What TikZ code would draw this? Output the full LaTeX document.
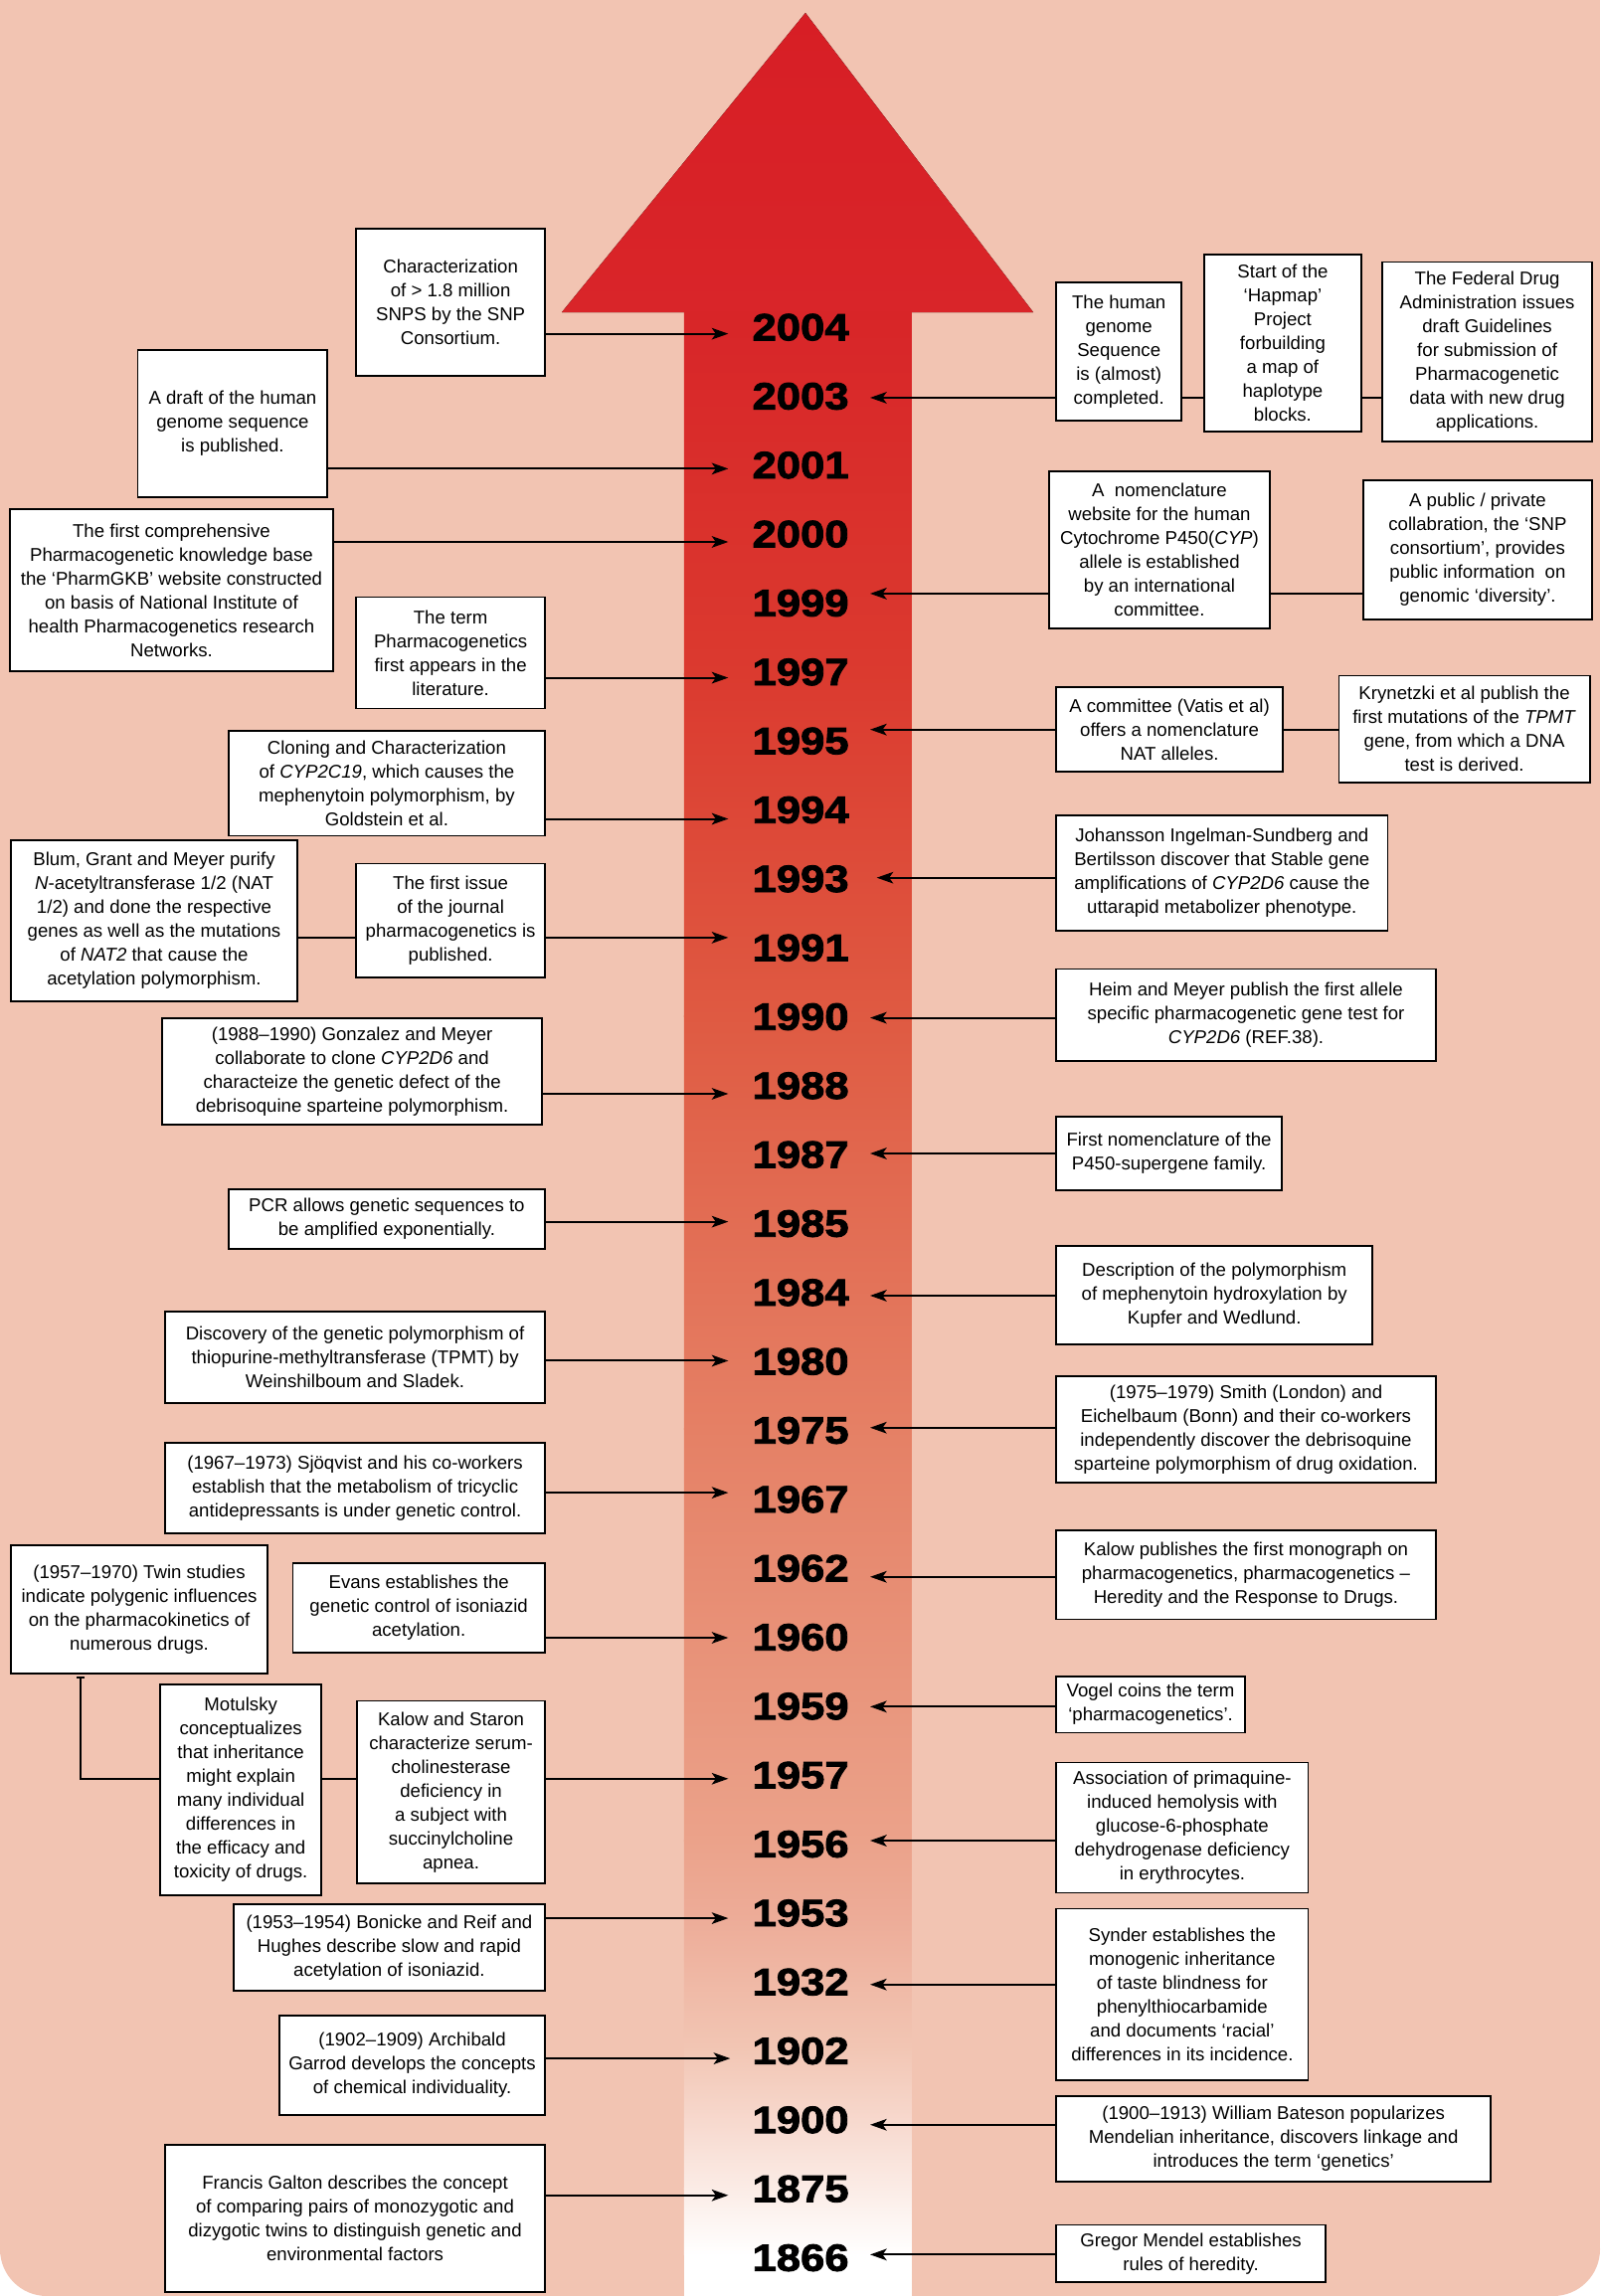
\documentclass[tikz,border=0pt]{standalone}
\usepackage{fontspec}
\setmainfont{Liberation Sans}
\newfontfamily\yearfont[FakeStretch=1.14,FakeBold=2.2]{Liberation Sans Bold}
\usetikzlibrary{arrows.meta}
\definecolor{bgpink}{RGB}{242,196,178}
\definecolor{tri0}{RGB}{215,30,37}
\definecolor{tri1}{RGB}{217,37,41}
\definecolor{c0}{RGB}{216,37,40}
\definecolor{c1}{RGB}{219,58,47}
\definecolor{c2}{RGB}{223,90,66}
\definecolor{c3}{RGB}{229,128,101}
\definecolor{c4}{RGB}{235,162,138}
\definecolor{c5}{RGB}{237,172,152}
\definecolor{c6}{RGB}{242,198,180}
\definecolor{c7}{RGB}{247,216,205}
\definecolor{c8}{RGB}{251,236,230}
\definecolor{c9}{RGB}{255,255,255}
\tikzset{
  evb/.style={draw=black, fill=white, line width=1.15pt, inner sep=0pt, outer sep=0pt,
    align=center, font=\fontsize{12.65}{16.3}\selectfont},
  yr/.style={inner sep=0pt, font=\yearfont\fontsize{26}{26}\selectfont},
  conn/.style={draw=black, line width=1.35pt},
  arr/.style={conn, -{Stealth[length=11.3pt,width=7.9pt,inset=2.8pt]}}
}
\newcommand\evbox[6]{%
  \node[evb, minimum width={(#4-#2)*1pt}, minimum height={(#5-#3)*1pt}] (#1) at ({(#2+#4)/2},{(#3+#5)/2}) {#6};}
\newcommand\shaftseg[4]{%
  \fill[top color=#3, bottom color=#4] (467.2,#1) rectangle (622.8,{#2+0.6});}
\begin{document}
\begin{tikzpicture}[x=1pt,y=-1pt]
\useasboundingbox (0,0) rectangle (1093,1568.5);
% background
\fill[bgpink] (0,0) rectangle (1093,1568.5);
\fill[white] (0,1536.5) rectangle (32,1568.5);
\fill[bgpink] (32,1536.5) circle (32);
\fill[white] (1061,1536.5) rectangle (1093,1568.5);
\fill[bgpink] (1061,1536.5) circle (32);
% big arrow
\fill[top color=tri0, bottom color=tri1] (550.2,8.8) -- (705.8,213.3) -- (383.8,213.3) -- cycle;
\shaftseg{212.8}{460}{c0}{c1}
\shaftseg{460}{694}{c1}{c2}
\shaftseg{694}{976}{c2}{c3}
\shaftseg{976}{1257}{c3}{c4}
\shaftseg{1257}{1310}{c4}{c5}
\shaftseg{1310}{1400}{c5}{c6}
\shaftseg{1400}{1447}{c6}{c7}
\shaftseg{1447}{1495}{c7}{c8}
\shaftseg{1495}{1540}{c8}{c9}
\fill[white] (467.2,1540) rectangle (622.8,1568.5);
% years
\foreach \yr [count=\k from 0] in {2004,2003,2001,2000,1999,1997,1995,1994,1993,1991,1990,1988,1987,1985,1984,1980,1975,1967,1962,1960,1959,1957,1956,1953,1932,1902,1900,1875,1866}
  \node[yr] (y\yr) at (546.9,{223.6+47.1*\k}) {\yr};
% arrow targets
\coordinate (t2004) at (497.5,228.0);
\coordinate (t2001) at (497.5,320.2);
\coordinate (t2000) at (497.5,370.2);
\coordinate (t1997) at (497.5,463.0);
\coordinate (t1994) at (497.5,559.4);
\coordinate (t1991) at (497.5,640.5);
\coordinate (t1988) at (497.5,747.2);
\coordinate (t1985) at (497.5,834.6);
\coordinate (t1980) at (497.5,929.6);
\coordinate (t1967) at (497.5,1019.7);
\coordinate (t1960) at (497.5,1118.8);
\coordinate (t1957) at (497.5,1215.1);
\coordinate (t1953) at (497.5,1310.4);
\coordinate (t1902) at (498.8,1406.2);
\coordinate (t1875) at (497.5,1499.7);
\coordinate (t2003) at (594.4,271.7);
\coordinate (t1999) at (594.4,405.5);
\coordinate (t1995) at (594.4,498.4);
\coordinate (t1993) at (598.9,599.6);
\coordinate (t1990) at (594.4,695.3);
\coordinate (t1987) at (594.4,788.0);
\coordinate (t1984) at (594.4,885.1);
\coordinate (t1975) at (594.4,975.3);
\coordinate (t1962) at (594.4,1077.2);
\coordinate (t1959) at (594.4,1165.9);
\coordinate (t1956) at (594.4,1257.4);
\coordinate (t1932) at (594.4,1355.7);
\coordinate (t1900) at (594.4,1451.5);
\coordinate (t1866) at (594.4,1540.2);
\coordinate (twin) at (55,1143.3);
% left boxes
\evbox{L1}{243.3}{156.2}{372.3}{256.8}{Characterization\\of > 1.8 million\\SNPS by the SNP\\Consortium.}
\evbox{L2}{94.1}{239.0}{223.7}{339.7}{A draft of the human\\genome sequence\\is published.}
\evbox{L3}{6.9}{348.0}{227.4}{458.6}{The first comprehensive\\Pharmacogenetic knowledge base\\the ‘PharmGKB’ website constructed\\on basis of National Institute of\\health Pharmacogenetics research\\Networks.}
\evbox{L4}{243.3}{408.0}{372.3}{484.0}{The term\\Pharmacogenetics\\first appears in the\\literature.}
\evbox{L5}{156.2}{499.2}{372.2}{571.0}{Cloning and Characterization\\of \textit{CYP2C19}, which causes the\\mephenytoin polymorphism, by\\Goldstein et al.}
\evbox{L6}{7.7}{574.0}{202.9}{684.0}{Blum, Grant and Meyer purify\\\textit{N}-acetyltransferase 1/2 (NAT\\1/2) and done the respective\\genes as well as the mutations\\of \textit{NAT2} that cause the\\acetylation polymorphism.}
\evbox{L7}{243.3}{590.0}{372.3}{667.7}{The first issue\\of the journal\\pharmacogenetics is\\published.}
\evbox{L8}{110.9}{695.6}{370.2}{768.4}{(1988–1990) Gonzalez and Meyer\\collaborate to clone \textit{CYP2D6} and\\characteize the genetic defect of the\\debrisoquine sparteine polymorphism.}
\evbox{L9}{156.2}{812.5}{372.2}{853.3}{PCR allows genetic sequences to\\be amplified exponentially.}
\evbox{L10}{112.9}{896.2}{372.2}{958.6}{Discovery of the genetic polymorphism of\\thiopurine-methyltransferase (TPMT) by\\Weinshilboum and Sladek.}
\evbox{L11}{112.9}{985.6}{372.2}{1047.5}{(1967–1973) Sjöqvist and his co-workers\\establish that the metabolism of tricyclic\\antidepressants is under genetic control.}
\evbox{L12}{7.7}{1055.6}{182.6}{1143.3}{(1957–1970) Twin studies\\indicate polygenic influences\\on the pharmacokinetics of\\numerous drugs.}
\evbox{L13}{200.0}{1068.0}{372.2}{1128.8}{Evans establishes the\\genetic control of isoniazid\\acetylation.}
\evbox{L14}{109.4}{1150.6}{219.6}{1294.6}{Motulsky\\conceptualizes\\that inheritance\\might explain\\many individual\\differences in\\the efficacy and\\toxicity of drugs.}
\evbox{L15}{244.0}{1162.0}{372.2}{1286.5}{Kalow and Staron\\characterize serum-\\cholinesterase\\deficiency in\\a subject with\\succinylcholine\\apnea.}
\evbox{L16}{159.6}{1300.9}{372.2}{1360.0}{(1953–1954) Bonicke and Reif and\\Hughes describe slow and rapid\\acetylation of isoniazid.}
\evbox{L17}{191.0}{1377.0}{372.2}{1445.0}{(1902–1909) Archibald\\Garrod develops the concepts\\of chemical individuality.}
\evbox{L18}{112.9}{1465.0}{372.2}{1565.8}{Francis Galton describes the concept\\of comparing pairs of monozygotic and\\dizygotic twins to distinguish genetic and\\environmental factors}
% right boxes
\evbox{R1}{721.5}{192.9}{807.2}{287.5}{The human\\genome\\Sequence\\is (almost)\\completed.}
\evbox{R2}{822.5}{173.8}{930.0}{295.0}{Start of the\\‘Hapmap’\\Project\\forbuilding\\a map of\\haplotype\\blocks.}
\evbox{R3}{944.4}{179.0}{1087.5}{301.8}{The Federal Drug\\Administration issues\\draft Guidelines\\for submission of\\Pharmacogenetic\\data with new drug\\applications.}
\evbox{R4}{716.8}{322.0}{867.3}{429.4}{A\ \ nomenclature\\website for the human\\Cytochrome P450(\textit{CYP})\\allele is established\\by an international\\committee.}
\evbox{R5}{931.3}{328.0}{1087.5}{423.3}{A public / private\\collabration, the ‘SNP\\consortium’, provides\\public information\ \ on\\genomic ‘diversity’.}
\evbox{R6}{721.5}{469.4}{876.3}{527.0}{A committee (Vatis et al)\\offers a nomenclature\\NAT alleles.}
\evbox{R7}{914.6}{461.6}{1086.0}{534.6}{Krynetzki et al publish the\\first mutations of the \textit{TPMT}\\gene, from which a DNA\\test is derived.}
\evbox{R8}{721.5}{556.8}{948.0}{635.6}{Johansson Ingelman-Sundberg and\\Bertilsson discover that Stable gene\\amplifications of \textit{CYP2D6} cause the\\uttarapid metabolizer phenotype.}
\evbox{R9}{721.5}{662.0}{980.8}{725.0}{Heim and Meyer publish the first allele\\specific pharmacogenetic gene test for\\\textit{CYP2D6} (REF.38).}
\evbox{R10}{721.5}{763.0}{875.6}{813.0}{First nomenclature of the\\P450-supergene family.}
\evbox{R11}{721.5}{851.0}{937.6}{918.6}{Description of the polymorphism\\of mephenytoin hydroxylation by\\Kupfer and Wedlund.}
\evbox{R12}{721.5}{940.1}{980.8}{1012.6}{(1975–1979) Smith (London) and\\Eichelbaum (Bonn) and their co-workers\\independently discover the debrisoquine\\sparteine polymorphism of drug oxidation.}
\evbox{R13}{721.5}{1045.6}{980.8}{1106.3}{Kalow publishes the first monograph on\\pharmacogenetics, pharmacogenetics –\\Heredity and the Response to Drugs.}
\evbox{R14}{721.5}{1145.1}{850.5}{1183.6}{Vogel coins the term\\‘pharmacogenetics’.}
\evbox{R15}{721.5}{1204.0}{893.7}{1293.1}{Association of primaquine-\\induced hemolysis with\\glucose-6-phosphate\\dehydrogenase deficiency\\in erythrocytes.}
\evbox{R16}{721.5}{1303.8}{893.7}{1420.9}{Synder establishes the\\monogenic inheritance\\of taste blindness for\\phenylthiocarbamide\\and documents ‘racial’\\differences in its incidence.}
\evbox{R17}{721.5}{1431.8}{1018.4}{1490.4}{(1900–1913) William Bateson popularizes\\Mendelian inheritance, discovers linkage and\\introduces the term ‘genetics’}
\evbox{R18}{721.5}{1520.0}{905.5}{1559.2}{Gregor Mendel establishes\\rules of heredity.}
% left arrows
\draw[arr] (L1.east |- t2004) -- (t2004);
\draw[arr] (L2.east |- t2001) -- (t2001);
\draw[arr] (L3.east |- t2000) -- (t2000);
\draw[arr] (L4.east |- t1997) -- (t1997);
\draw[arr] (L5.east |- t1994) -- (t1994);
\draw[arr] (L7.east |- t1991) -- (t1991);
\draw[arr] (L8.east |- t1988) -- (t1988);
\draw[arr] (L9.east |- t1985) -- (t1985);
\draw[arr] (L10.east |- t1980) -- (t1980);
\draw[arr] (L11.east |- t1967) -- (t1967);
\draw[arr] (L13.east |- t1960) -- (t1960);
\draw[arr] (L15.east |- t1957) -- (t1957);
\draw[arr] (L16.east |- t1953) -- (t1953);
\draw[arr] (L17.east |- t1902) -- (t1902);
\draw[arr] (L18.east |- t1875) -- (t1875);
% right arrows
\draw[arr] (R1.west |- t2003) -- (t2003);
\draw[arr] (R4.west |- t1999) -- (t1999);
\draw[arr] (R6.west |- t1995) -- (t1995);
\draw[arr] (R8.west |- t1993) -- (t1993);
\draw[arr] (R9.west |- t1990) -- (t1990);
\draw[arr] (R10.west |- t1987) -- (t1987);
\draw[arr] (R11.west |- t1984) -- (t1984);
\draw[arr] (R12.west |- t1975) -- (t1975);
\draw[arr] (R13.west |- t1962) -- (t1962);
\draw[arr] (R14.west |- t1959) -- (t1959);
\draw[arr] (R15.west |- t1956) -- (t1956);
\draw[arr] (R16.west |- t1932) -- (t1932);
\draw[arr] (R17.west |- t1900) -- (t1900);
\draw[arr] (R18.west |- t1866) -- (t1866);
% box-to-box connectors
\draw[conn] (R1.east |- t2003) -- (R2.west |- t2003);
\draw[conn] (R2.east |- t2003) -- (R3.west |- t2003);
\draw[conn] (R4.east |- t1999) -- (R5.west |- t1999);
\draw[conn] (R6.east |- t1995) -- (R7.west |- t1995);
\draw[conn] (L6.east |- t1991) -- (L7.west |- t1991);
\draw[conn] (L14.east |- t1957) -- (L15.west |- t1957);
\draw[conn, {Bar[width=5.5pt]}-, shorten <=2pt] (L12.south -| twin) |- (L14.west |- t1957);
\end{tikzpicture}
\end{document}
